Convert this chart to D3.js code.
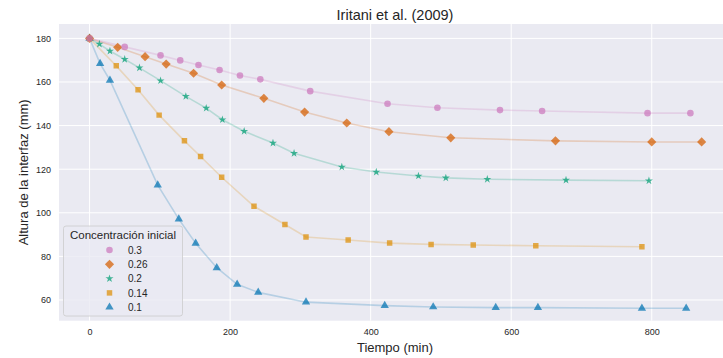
<!DOCTYPE html>
<html>
<head>
<meta charset="utf-8">
<script src="https://cdn.jsdelivr.net/npm/d3@7"></script>
<style>
    body { margin: 0; background: #fff; }
    svg { display: block; font-family: "Liberation Sans", Arial, sans-serif; }
</style>
</head>
<body>
<svg id="chart" width="723" height="358"></svg>
<script>
// series, in drawing order (legend lists them reversed)
const concentrations = ["0.1", "0.14", "0.2", "0.26", "0.3"];
const colors = ["#0173B2", "#DE8F05", "#029E73", "#D55E00", "#CC78BC"];
const markers = ["triangle", "square", "star", "diamond", "circle"];

const time01 = [0, 15, 29, 97, 127, 151, 181, 210, 240, 308, 420, 489, 578, 638, 786, 849];
const height01 = [180, 168.4, 160.8, 112.7, 97.1, 86.0, 74.8, 67.2, 63.5, 59.0, 57.4, 56.8, 56.5, 56.5, 56.2, 56.2];

const time014 = [0, 38, 69, 99, 135, 158, 188, 234, 278, 308, 368, 427, 486, 546, 635, 786];
const height014 = [180, 167.4, 156.4, 144.8, 133.0, 125.8, 116.3, 103.0, 94.6, 88.9, 87.5, 86.1, 85.5, 85.2, 84.9, 84.4];

const time02 = [0, 14, 29, 50, 71, 101, 137, 166, 189, 220, 261, 291, 359, 408, 468, 507, 566, 678, 796];
const height02 = [180, 177.4, 174.2, 170.4, 166.5, 160.6, 153.4, 148.0, 142.7, 137.4, 132.0, 127.3, 121.0, 118.7, 116.9, 116.0, 115.4, 115.0, 114.7];

const time026 = [0, 40, 79, 109, 148, 188, 248, 306, 366, 426, 514, 663, 800, 871];
const height026 = [180, 175.9, 171.6, 168.2, 164.0, 158.6, 152.5, 146.2, 141.2, 137.2, 134.4, 133.0, 132.5, 132.5];

const time03 = [0, 50, 101, 129, 155, 185, 214, 243, 314, 424, 495, 584, 644, 794, 855];
const height03 = [180, 176.1, 172.2, 169.9, 167.8, 165.5, 163.0, 161.2, 155.8, 150.0, 148.2, 147.1, 146.7, 145.7, 145.7];

const xTicks = [0, 200, 400, 600, 800];
const yTicks = [60, 80, 100, 120, 140, 160, 180];

const times = [time01, time014, time02, time026, time03];
const heights = [height01, height014, height02, height026, height03];

const series = concentrations.map(function (c, i) {
    return {
        name: c,
        color: colors[i],
        marker: markers[i],
        points: times[i].map(function (t, j) {
            return { x: t, y: heights[i][j] };
        })
    };
});

let svg = d3.select("#chart");

let plot = { left: 59, top: 24, right: 731.5, bottom: 320.7 };

let x = d3.scaleLinear().domain([-43.5, 913.5]).range([plot.left, plot.right]);
let y = d3.scaleLinear().domain([50.5, 186.6]).range([plot.bottom, plot.top]);

function markerPath(kind) {
    if (kind === "circle") return d3.symbol(d3.symbolCircle, 34)();
    if (kind === "square") return d3.symbol(d3.symbolSquare, 30)();
    if (kind === "star") return d3.symbol(d3.symbolStar, 20)();
    if (kind === "triangle") return d3.symbol(d3.symbolTriangle, 30)();
    return d3.symbol(d3.symbolSquare, 42)();
}

function markerRotate(kind) {
    return kind === "diamond" ? " rotate(45)" : "";
}

//Axes background
svg.append("rect")
    .attr("x", plot.left)
    .attr("y", plot.top)
    .attr("width", plot.right - plot.left)
    .attr("height", plot.bottom - plot.top)
    .attr("fill", "#EAEAF2");

svg.append("clipPath")
    .attr("id", "plotClip")
    .append("rect")
    .attr("x", plot.left)
    .attr("y", plot.top)
    .attr("width", plot.right - plot.left)
    .attr("height", plot.bottom - plot.top);

//Grid lines
let grid = svg.append("g").attr("stroke", "#fff").attr("stroke-width", 1);

grid.selectAll(".vgrid")
    .data(xTicks)
    .join("line")
    .attr("class", "vgrid")
    .attr("x1", d => x(d)).attr("x2", d => x(d))
    .attr("y1", plot.top).attr("y2", plot.bottom);

grid.selectAll(".hgrid")
    .data(yTicks)
    .join("line")
    .attr("class", "hgrid")
    .attr("x1", plot.left).attr("x2", plot.right)
    .attr("y1", d => y(d)).attr("y2", d => y(d));

//Axes (tick labels only, seaborn darkgrid style)
let xAxis = svg.append("g")
    .attr("transform", "translate(0," + plot.bottom + ")")
    .call(d3.axisBottom(x).tickValues(xTicks).tickSize(0).tickPadding(8));

let yAxis = svg.append("g")
    .attr("transform", "translate(" + plot.left + ",0)")
    .call(d3.axisLeft(y).tickValues(yTicks).tickSize(0).tickPadding(8));

[xAxis, yAxis].forEach(function (a) {
    a.select(".domain").remove();
    a.selectAll("text")
        .attr("fill", "#262626")
        .style("font-family", "Liberation Sans, Arial, sans-serif")
        .style("font-size", "9px");
});

//Lines and markers
let body = svg.append("g").attr("clip-path", "url(#plotClip)");

let line = d3.line()
    .x(d => x(d.x))
    .y(d => y(d.y));

body.selectAll(".seriesLine")
    .data(series)
    .join("path")
    .attr("class", "seriesLine")
    .attr("d", d => line(d.points))
    .attr("fill", "none")
    .attr("stroke", d => d.color)
    .attr("stroke-opacity", 0.22)
    .attr("stroke-width", 1.6);

series.forEach(function (s) {
    body.append("g")
        .selectAll("path")
        .data(s.points)
        .join("path")
        .attr("d", markerPath(s.marker))
        .attr("transform", d => "translate(" + x(d.x) + "," + y(d.y) + ")" + markerRotate(s.marker))
        .attr("fill", s.color)
        .attr("fill-opacity", 0.72);
});

//Title and axis labels
svg.append("text")
    .attr("x", 395)
    .attr("y", 19.5)
    .attr("text-anchor", "middle")
    .attr("fill", "#262626")
    .style("font-size", "14.5px")
    .text("Iritani et al. (2009)");

svg.append("text")
    .attr("x", 395)
    .attr("y", 351.5)
    .attr("text-anchor", "middle")
    .attr("fill", "#262626")
    .style("font-size", "13px")
    .text("Tiempo (min)");

svg.append("text")
    .attr("transform", "translate(28," + ((plot.top + plot.bottom) / 2) + ") rotate(-90)")
    .attr("text-anchor", "middle")
    .attr("fill", "#262626")
    .style("font-size", "13px")
    .text("Altura de la interfaz (mm)");

//Legend
let legend = svg.append("g").attr("transform", "translate(63.5,226)");

legend.append("rect")
    .attr("width", 119)
    .attr("height", 90)
    .attr("rx", 2.5)
    .attr("fill", "#EAEAF2")
    .attr("fill-opacity", 0.8)
    .attr("stroke", "#CCCCCC")
    .attr("stroke-width", 0.8);

legend.append("text")
    .attr("x", 59.5)
    .attr("y", 12.5)
    .attr("text-anchor", "middle")
    .attr("fill", "#262626")
    .style("font-size", "11.5px")
    .text("Concentración inicial");

let entries = legend.selectAll(".entry")
    .data(series.slice().reverse())
    .join("g")
    .attr("class", "entry")
    .attr("transform", (d, i) => "translate(0," + (24 + i * 14.3) + ")");

entries.append("path")
    .attr("d", d => markerPath(d.marker))
    .attr("transform", d => "translate(46,0)" + markerRotate(d.marker))
    .attr("fill", d => d.color)
    .attr("fill-opacity", 0.72);

entries.append("text")
    .attr("x", 64.5)
    .attr("y", 3.6)
    .attr("fill", "#262626")
    .style("font-size", "10px")
    .text(d => d.name);
</script>
</body>
</html>
